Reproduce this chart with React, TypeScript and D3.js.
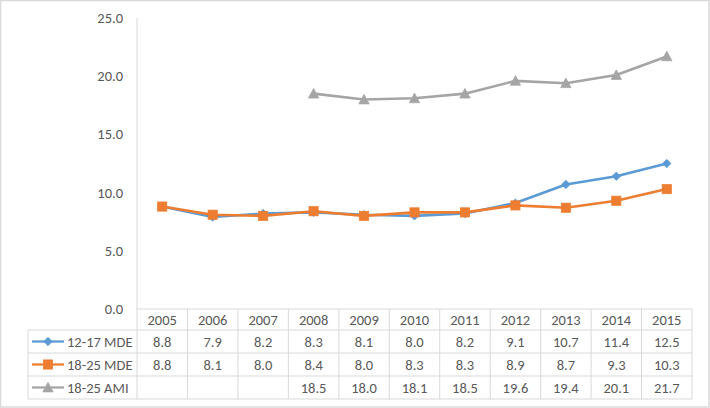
import React from "react";
import * as d3 from "d3";

const years = ["2005","2006","2007","2008","2009","2010","2011","2012","2013","2014","2015"];
const mde1217: (number|null)[] = [8.8,7.9,8.2,8.3,8.1,8.0,8.2,9.1,10.7,11.4,12.5];
const mde1825: (number|null)[] = [8.8,8.1,8.0,8.4,8.0,8.3,8.3,8.9,8.7,9.3,10.3];
const ami1825: (number|null)[] = [null,null,null,18.5,18.0,18.1,18.5,19.6,19.4,20.1,21.7];
const yTicks = [0,5,10,15,20,25];

const series = [
  { name: "12-17 MDE", values: mde1217, color: "#5B9BD5", marker: "diamond" },
  { name: "18-25 MDE", values: mde1825, color: "#ED7D31", marker: "square" },
  { name: "18-25 AMI", values: ami1825, color: "#A5A5A5", marker: "triangle" },
];

const W = 710, H = 408;
const left = 137, right = 692, top = 18, bottom = 309;
const rowTops = [309, 330, 353, 376, 399];
const legendLeft = 28;
const font = "Carlito, Calibri, 'Liberation Sans', Arial, sans-serif";
const grid = "#D9D9D9";
const textCol = "#595959";
const fs = 14.5;

function Marker({ type, x, y, color }: { type: string; x: number; y: number; color: string }) {
  if (type === "diamond") {
    const s = 4.2;
    return <path d={`M${x},${y - s}L${x + s},${y}L${x},${y + s}L${x - s},${y}Z`} fill={color} stroke={color} strokeWidth={0.75} />;
  }
  if (type === "square") {
    const s = 4.6;
    return <rect x={x - s} y={y - s} width={2 * s} height={2 * s} fill={color} stroke={color} strokeWidth={0.75} />;
  }
  const s = 5.2;
  return <path d={`M${x},${y - s}L${x + s},${y + s * 0.85}L${x - s},${y + s * 0.85}Z`} fill={color} stroke={color} strokeWidth={0.75} />;
}

export default function App() {
  const x = d3.scaleBand<string>().domain(years).range([left, right]);
  const y = d3.scaleLinear().domain([0, 25]).range([bottom, top]);
  const cx = (yr: string) => (x(yr) as number) + x.bandwidth() / 2;
  const fmt = d3.format(".1f");

  return (
    <svg width={W} height={H} style={{ position: "absolute", left: 0, top: 0 }} fontFamily={font}>
      <rect x={0.5} y={0.5} width={W - 1.5} height={H - 1.5} fill="#fff" stroke={grid} strokeWidth={1.5} />
      {/* y axis */}
      <line x1={left} x2={left} y1={top} y2={rowTops[4]} stroke={grid} strokeWidth={1} />
      {yTicks.map((t) => (
        <text key={t} x={123} y={y(t)} dy="0.35em" textAnchor="end" fontSize={fs} fill={textCol}>
          {fmt(t)}
        </text>
      ))}
      {/* table grid */}
      {rowTops.map((ry, i) => (
        <line key={"h" + i} x1={i === 0 ? left : legendLeft} x2={right} y1={ry} y2={ry} stroke={grid} strokeWidth={1} />
      ))}
      {years.map((yr, i) => (
        <line key={"v" + i} x1={(x(yr) as number) + x.bandwidth()} x2={(x(yr) as number) + x.bandwidth()} y1={rowTops[0]} y2={rowTops[4]} stroke={grid} strokeWidth={1} />
      ))}
      <line x1={legendLeft} x2={legendLeft} y1={rowTops[1]} y2={rowTops[4]} stroke={grid} strokeWidth={1} />
      {years.map((yr) => (
        <text key={"yr" + yr} x={cx(yr)} y={(rowTops[0] + rowTops[1]) / 2} dy="0.35em" textAnchor="middle" fontSize={fs} fill={textCol}>
          {yr}
        </text>
      ))}
      {series.map((s, si) => {
        const ry = (rowTops[si + 1] + rowTops[si + 2]) / 2;
        return (
          <g key={"row" + s.name}>
            <line x1={32} x2={64} y1={ry} y2={ry} stroke={s.color} strokeWidth={2.25} />
            <Marker type={s.marker} x={48} y={ry} color={s.color} />
            <text x={67} y={ry} dy="0.35em" fontSize={fs} fill={textCol}>{s.name}</text>
            {s.values.map((v, i) =>
              v == null ? null : (
                <text key={i} x={cx(years[i])} y={ry} dy="0.35em" textAnchor="middle" fontSize={fs} fill={textCol}>
                  {fmt(v)}
                </text>
              )
            )}
          </g>
        );
      })}
      {/* lines */}
      {series.map((s) => {
        const pts = years.map((yr, i) => ({ yr, v: s.values[i] }));
        const line = d3
          .line<{ yr: string; v: number | null }>()
          .defined((d) => d.v != null)
          .x((d) => cx(d.yr))
          .y((d) => y(d.v as number));
        return (
          <g key={"s" + s.name}>
            <path d={line(pts) || ""} fill="none" stroke={s.color} strokeWidth={2.6} strokeLinejoin="round" />
            {pts.map((p, i) => (p.v == null ? null : <Marker key={i} type={s.marker} x={cx(p.yr)} y={y(p.v)} color={s.color} />))}
          </g>
        );
      })}
    </svg>
  );
}
